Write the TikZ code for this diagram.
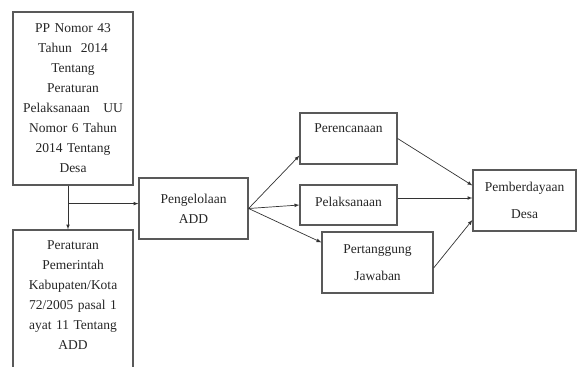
\documentclass[tikz,border=0pt]{standalone}
\usepackage{fontspec}
\setmainfont{Liberation Serif}
\usepackage{tikz}
\usetikzlibrary{shapes.geometric, arrows}
\tikzstyle{arrow} = [line width=0.7pt, draw=black!80, -latex]
\tikzstyle{line} = [line width=0.7pt, draw=black!80]
\tikzstyle{box} = [rectangle, draw=black!65, line width=1.2pt, fill=white, align=center, inner sep=2pt, text=black!85, font=\fontsize{13.5}{20}\selectfont]

\begin{document}
\begin{tikzpicture}[node distance = 0pt]
                \useasboundingbox (0,0) rectangle (577pt,-366pt);
                \node (pp) [box, minimum width = 120pt, minimum height = 173pt, text width = 112pt] at (73pt,-98.5pt) {PP Nomor 43\\Tahun\ \ 2014\\Tentang\\Peraturan\\Pelaksanaan\ \ \ UU\\Nomor 6 Tahun\\2014 Tentang\\Desa};
                \node (perda) [box, minimum width = 120pt, minimum height = 150pt, text width = 112pt, below of = pp, yshift = -206.5pt] {Peraturan\\Pemerintah\\Kabupaten/Kota\\72/2005 pasal 1\\ayat 11 Tentang\\ADD\\\mbox{}};
                \node (adda) [box, minimum width = 109pt, minimum height = 61pt, right of = pp, xshift = 120.5pt, yshift = -110pt] {Pengelolaan\\ADD};
                
                \node (renc) [box, minimum width = 97pt, minimum height = 51pt, right of = adda, xshift = 155pt, yshift = 70pt] {Perencanaan\\\mbox{}};
                \node (laks) [box, minimum width = 97pt, minimum height = 40pt, text depth = 7pt, right of = adda, xshift = 155pt, yshift = 3.5pt] {Pelaksanaan};
                \node (tj) [box, minimum width = 111pt, minimum height = 61pt, right of = adda, xshift = 184pt, yshift = -54pt] {Pertanggung\\[7pt]Jawaban};
                \node (desa) [box, minimum width = 103pt, minimum height = 61pt, right of = laks, xshift = 176pt, yshift = 4.5pt] {Pemberdayaan\\[7pt]Desa};
                
                \coordinate (split) at ([xshift = -5pt, yshift = -18pt]pp.south);
                
                \draw [line] ([xshift = -5pt]pp.south) -- (split);
                \draw [arrow] (split) -- ([xshift = -5pt]perda.north);
                \draw [arrow] (split) -- (split -| adda.west);
                \draw [arrow] (adda.east) -- ([yshift = 9pt]renc.south west);
                \draw [arrow] (adda.east) -- (laks.west);
                \draw [arrow] (adda.east) -- ([yshift = -11pt]tj.north west);
                \draw [arrow] (renc.east) -- ([yshift = 15pt]desa.west);
                \draw [arrow] ([yshift = 7pt]laks.east) -- ([yshift = 7pt]laks.east -| desa.west);
                \draw [arrow] ([yshift = -5.5pt]tj.east) -- ([yshift = -19.5pt]desa.west);
            \end{tikzpicture}
\end{document}
